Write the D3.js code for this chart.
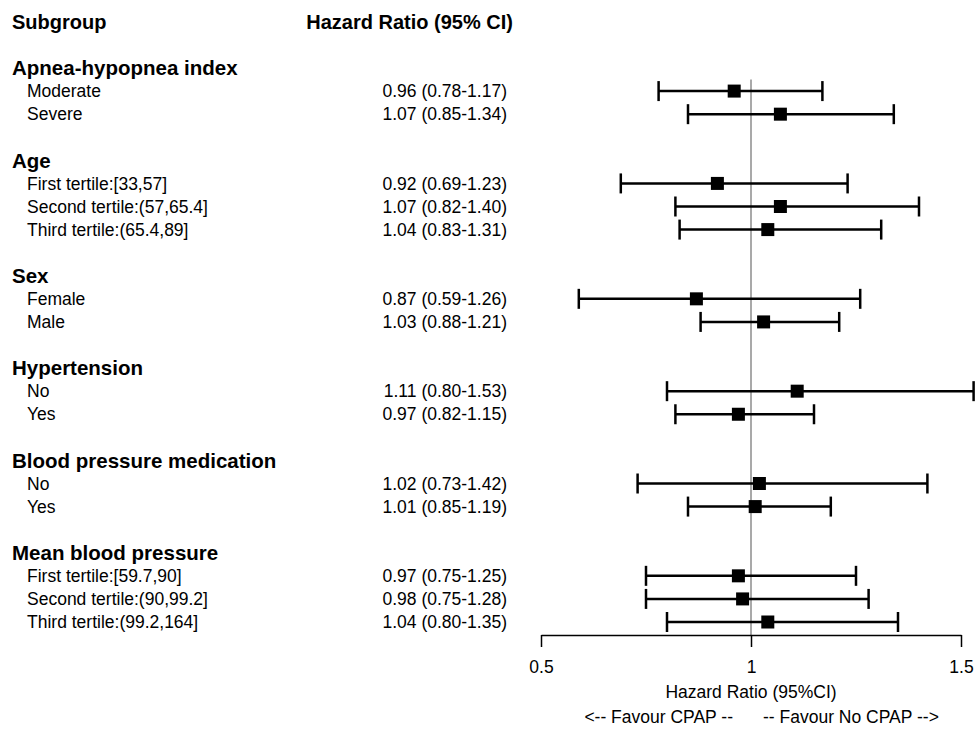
<!DOCTYPE html>
<html>
<head>
<meta charset="utf-8">
<script src="https://cdn.jsdelivr.net/npm/d3@7"></script>
<style>
  body { margin: 0; background: #fff; }
  text { font-family: "Liberation Sans", Arial, sans-serif; fill: #000; }
</style>
</head>
<body>
<div id="chart"></div>
<script>
// subgroup headings and their rows
const groupNames = ['Apnea-hypopnea index', 'Age', 'Sex', 'Hypertension', 'Blood pressure medication', 'Mean blood pressure'];
const subLabels = [
    'Moderate', 'Severe',
    'First tertile:[33,57]', 'Second tertile:(57,65.4]', 'Third tertile:(65.4,89]',
    'Female', 'Male',
    'No', 'Yes',
    'No', 'Yes',
    'First tertile:[59.7,90]', 'Second tertile:(90,99.2]', 'Third tertile:(99.2,164]'
];
const subGroup = [0, 0, 1, 1, 1, 2, 2, 3, 3, 4, 4, 5, 5, 5];
const hr    = [0.96, 1.07, 0.92, 1.07, 1.04, 0.87, 1.03, 1.11, 0.97, 1.02, 1.01, 0.97, 0.98, 1.04];
const lower = [0.78, 0.85, 0.69, 0.82, 0.83, 0.59, 0.88, 0.80, 0.82, 0.73, 0.85, 0.75, 0.75, 0.80];
const upper = [1.17, 1.34, 1.23, 1.40, 1.31, 1.26, 1.21, 1.53, 1.15, 1.42, 1.19, 1.25, 1.28, 1.35];
const xTicks = [0.5, 1, 1.5];

const width = 976, height = 729;
const svg = d3.select('#chart').append('svg')
    .attr('width', width).attr('height', height);

// lay out rows: heading, its subgroups, then a blank line
var rows = [];
var r = 0;
groupNames.forEach((g, gi) => {
    rows.push({type: 'group', label: g, row: r++});
    subLabels.forEach((s, i) => {
        if (subGroup[i] === gi) {
            rows.push({type: 'item', label: s, row: r++, hr: hr[i], lo: lower[i], hi: upper[i]});
        }
    });
    r++;
});
var lastRow = r - 2;

var y = d3.scaleLinear().domain([0, lastRow]).range([68, 622]);
var x = d3.scaleLinear().domain([0.5, 1.5]).range([541, 961]);
var items = rows.filter(d => d.type === 'item');
var fmt = d3.format('.2f');

// column headers
svg.append('text').attr('x', 12).attr('y', y(-2)).attr('dy', '0.35em')
    .style('font-weight', 'bold').style('font-size', '20px').text('Subgroup');
svg.append('text').attr('x', 513).attr('y', y(-2)).attr('dy', '0.35em')
    .attr('text-anchor', 'end')
    .style('font-weight', 'bold').style('font-size', '20px').text('Hazard Ratio (95% CI)');

// left labels
svg.selectAll('.lab').data(rows).enter().append('text')
    .attr('class', 'lab')
    .attr('x', d => d.type === 'group' ? 12 : 27)
    .attr('y', d => y(d.row)).attr('dy', '0.35em')
    .style('font-weight', d => d.type === 'group' ? 'bold' : 'normal')
    .style('font-size', d => d.type === 'group' ? '20.5px' : '17.5px')
    .text(d => d.label);

svg.selectAll('.val').data(items).enter().append('text')
    .attr('class', 'val')
    .attr('x', 507).attr('y', d => y(d.row)).attr('dy', '0.35em')
    .attr('text-anchor', 'end').style('font-size', '17.5px')
    .text(d => fmt(d.hr) + ' (' + fmt(d.lo) + '-' + fmt(d.hi) + ')');

// reference line at 1
var axisY = 635;
svg.append('line')
    .attr('x1', x(1)).attr('x2', x(1))
    .attr('y1', y(0.5)).attr('y2', axisY)
    .attr('stroke', '#8c8c8c').attr('stroke-width', 1.5);

// confidence intervals
var ci = svg.append('g').attr('stroke', '#000').attr('stroke-width', 2.5);
ci.selectAll('.ci').data(items).enter().append('line')
    .attr('x1', d => x(d.lo)).attr('x2', d => x(d.hi))
    .attr('y1', d => y(d.row)).attr('y2', d => y(d.row));
ci.selectAll('.capl').data(items).enter().append('line')
    .attr('x1', d => x(d.lo)).attr('x2', d => x(d.lo))
    .attr('y1', d => y(d.row) - 10).attr('y2', d => y(d.row) + 10);
ci.selectAll('.caph').data(items).enter().append('line')
    .attr('x1', d => x(d.hi)).attr('x2', d => x(d.hi))
    .attr('y1', d => y(d.row) - 10).attr('y2', d => y(d.row) + 10);

svg.selectAll('.box').data(items).enter().append('rect')
    .attr('x', d => x(d.hr) - 6.5).attr('y', d => y(d.row) - 6.5)
    .attr('width', 13).attr('height', 13).attr('fill', '#000');

// x axis
var axis = svg.append('g')
    .attr('transform', 'translate(0,' + axisY + ')')
    .call(d3.axisBottom(x).tickValues(xTicks).tickFormat(d3.format('')).tickSize(12).tickSizeOuter(0).tickPadding(14));
axis.select('.domain').attr('stroke', '#000').attr('stroke-width', 1.5);
axis.selectAll('.tick line').attr('stroke', '#000').attr('stroke-width', 1.5);
axis.selectAll('.tick text')
    .style('font-family', '"Liberation Sans", Arial, sans-serif')
    .style('font-size', '17.5px').attr('fill', '#000');

svg.append('text').attr('x', x(1)).attr('y', 692).attr('dy', '0.35em')
    .attr('text-anchor', 'middle').style('font-size', '17.5px').text('Hazard Ratio (95%CI)');
svg.append('text').attr('x', 733).attr('y', 717).attr('dy', '0.35em')
    .attr('text-anchor', 'end').style('font-size', '17.5px').text('<-- Favour CPAP --');
svg.append('text').attr('x', 763).attr('y', 717).attr('dy', '0.35em')
    .attr('text-anchor', 'start').style('font-size', '17.5px').text('-- Favour No CPAP -->');
</script>
</body>
</html>
